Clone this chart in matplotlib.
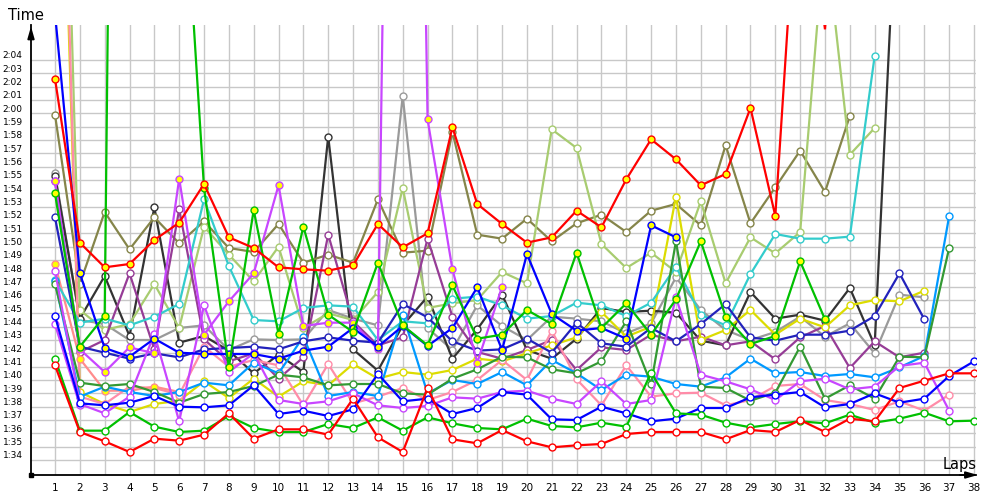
import matplotlib
matplotlib.use('Agg')
import matplotlib.pyplot as plt
from matplotlib.transforms import ScaledTranslation

# lap times, seconds past 1:00 (so 45.2 means 1:45.2); one value per lap starting at lap 1
laps = list(range(1, 39))
red_top = [62.6, 50.3, 48.45, 48.7, 50.5, 51.8, 54.7, 50.7, 49.9, 48.45, 48.3, 48.2, 48.6, 51.7, 49.95, 51.0,
           58.95, 53.2, 51.7, 50.3, 50.7, 52.7, 51.45, 55.05, 58.05, 56.55, 54.6, 55.45, 60.4, 52.3, 81.0, 66.3, 90.0]
red_low = [41.1, 36.1, 35.4, 34.6, 35.6, 35.45, 35.9, 37.5, 35.6, 36.3, 36.3, 35.9, 38.6, 35.7, 34.6, 39.4, 35.55,
           35.25, 36.25, 35.4, 34.95, 35.1, 35.2, 35.95, 36.1, 36.1, 36.1, 35.55, 36.25, 36.1, 37.0, 36.1, 37.1,
           36.9, 39.4, 39.95, 40.5, 40.5]
green_low = [41.6, 36.2, 36.2, 37.6, 36.5, 36.1, 36.2, 37.3, 36.4, 36.1, 36.1, 36.7, 36.4, 37.2, 36.2, 37.2, 36.75,
             36.4, 36.3, 37.1, 36.55, 36.45, 36.8, 36.5, 40.55, 37.5, 37.4, 36.8, 36.45, 36.7, 36.9, 36.75, 37.4,
             36.8, 37.1, 37.55, 36.9, 36.95]
green_yel = [54.0, 42.5, 44.8, 220.0, 150.0, 84.0, 54.4, 40.95, 52.75, 43.45, 51.5, 44.9, 43.6, 48.8, 44.1, 42.6,
             47.1, 43.1, 43.4, 45.25, 44.2, 49.55, 43.9, 45.75, 43.4, 46.05, 50.4, 44.75, 42.7, 43.3, 48.9, 44.55]
dkgreen = [47.2, 39.8, 39.55, 39.7, 39.1, 38.3, 38.95, 39.1, 39.55, 40.4, 40.2, 39.6, 39.7, 39.7, 39.0, 38.9, 40.1,
           40.8, 41.75, 41.7, 40.8, 40.5, 41.4, 44.4, 39.7, 50.4, 39.5, 39.4, 38.45, 39.05, 42.5, 38.6, 39.6, 38.6,
           41.75, 41.7, 49.9]
ltgreen = [110.0, 45.25, 43.75, 44.2, 47.2, 43.9, 51.5, 49.4, 47.4, 50.0, 43.9, 45.0, 44.5, 46.6, 54.4, 45.4, 45.75,
           46.0, 48.1, 47.25, 58.8, 57.4, 50.2, 48.4, 49.55, 48.1, 53.4, 47.25, 50.7, 49.5, 51.1, 73.7, 56.9, 58.9]
olive = [59.9, 47.2, 52.6, 49.8, 52.2, 50.25, 51.9, 49.9, 49.6, 51.7, 48.8, 49.4, 48.8, 53.55, 49.55, 49.7, 58.6,
         50.9, 50.6, 52.1, 50.4, 51.75, 52.4, 51.1, 52.7, 53.2, 51.6, 57.6, 51.75, 54.45, 57.2, 54.1, 59.8]
blue_yel = [67.5, 48.0, 42.4, 41.75, 43.1, 42.05, 41.95, 41.95, 41.95, 41.6, 42.2, 42.5, 43.9, 42.5, 44.05, 42.55,
            43.9, 46.95, 42.25, 49.45, 44.95, 43.7, 43.9, 43.1, 51.6, 50.7]
blue_low = [44.8, 38.25, 38.1, 38.3, 38.8, 38.0, 37.95, 38.1, 39.6, 37.45, 37.7, 37.3, 37.8, 40.45, 38.4, 38.6, 37.45,
            37.9, 39.1, 38.9, 37.05, 37.0, 38.0, 37.5, 36.9, 37.1, 37.9, 37.9, 38.7, 38.9, 39.1, 37.95, 38.2, 39.0,
            38.3, 38.6, 40.3, 41.4]
navy = [52.2, 42.5, 42.05, 41.6, 42.0, 41.7, 42.3, 42.4, 42.5, 42.3, 42.9, 43.2, 42.95, 42.8, 45.7, 44.7, 42.9, 42.2,
        42.3, 43.1, 42.05, 44.3, 42.75, 42.5, 43.9, 42.9, 44.2, 45.7, 43.2, 42.95, 43.4, 43.4, 43.7, 44.8, 48.0, 44.55]
ltblue = [47.4, 38.75, 39.5, 39.1, 38.8, 39.1, 39.8, 39.6, 41.3, 40.5, 43.25, 38.8, 39.1, 38.8, 44.9, 39.0, 40.0,
          39.7, 40.6, 39.6, 41.5, 40.5, 39.25, 40.4, 40.25, 39.7, 39.5, 40.2, 41.6, 40.5, 40.6, 40.3, 40.45, 40.2,
          40.95, 41.8, 52.3]
cyan = [47.5, 44.3, 44.6, 44.1, 44.75, 45.7, 53.55, 48.55, 44.5, 44.4, 45.4, 45.6, 45.5, 43.0, 44.4, 44.25, 46.1,
        46.25, 45.6, 44.6, 44.8, 45.8, 45.6, 44.8, 45.8, 48.5, 44.9, 44.1, 47.95, 50.95, 50.6, 50.6, 50.75, 64.3]
pink = [105.0, 38.75, 38.2, 39.5, 39.4, 38.9, 42.5, 41.0, 41.5, 41.1, 38.1, 41.2, 38.25, 38.75, 39.4, 38.5, 39.1, 40.0,
        41.5, 40.0, 43.7, 40.05, 38.1, 41.1, 38.75, 39.0, 39.05, 38.1, 38.5, 39.55, 39.7, 38.5, 38.2, 37.75, 38.4,
        37.7, 38.9]
pink_yel = [48.7, 41.6, 39.2, 39.2, 39.5, 39.1]
violet = [48.2, 38.2, 37.5, 38.75, 43.45, 36.9, 45.6, 40.6, 42.0, 38.5, 38.2, 38.4, 39.0, 38.1, 37.9, 38.05, 38.7,
          38.6, 39.1, 39.2, 38.6, 38.2, 39.9, 38.2, 38.5, 46.2, 40.4, 39.9, 39.3, 38.5, 39.9, 40.1, 39.3, 39.5, 41.05,
          41.3, 37.7]
violet2 = [44.2, 38.1]
violet_yel = [54.9, 42.3, 40.6, 42.45, 42.0, 55.1, 43.4, 45.9, 48.0, 54.6, 44.05, 44.3, 44.3, 42.3, 175.0, 59.55,
              48.3, 41.3, 47.0]
purple = [54.9, 42.1, 43.0, 48.0, 42.3, 52.8, 43.05, 41.4, 42.0, 40.1, 41.7, 50.9, 44.4, 42.6, 43.2, 50.6, 44.75,
          42.1, 41.6, 42.25, 43.0, 40.75, 42.45, 42.25, 43.4, 42.9, 43.25, 42.6, 42.9, 41.55, 43.2, 44.05, 40.9, 42.9,
          41.7, 42.05]
dkgray = [55.3, 44.6, 47.8, 43.3, 52.95, 42.8, 43.3, 42.2, 40.5, 41.9, 40.6, 58.25, 42.3, 40.7, 44.1, 46.25, 41.6,
          43.8, 46.4, 42.25, 41.6, 43.1, 45.4, 45.1, 45.2, 45.05, 42.95, 42.6, 46.6, 44.6, 44.9, 44.45, 46.9, 42.6, 81.3]
gray = [55.5, 44.5, 44.2, 43.0, 43.0, 43.9, 44.1, 42.25, 43.05, 43.0, 43.05, 45.25, 44.6, 44.1, 61.3, 43.9, 42.25,
        45.6, 44.05, 43.0, 44.75, 44.6, 44.4, 43.5, 44.25, 47.7, 45.25, 43.75, 43.0, 43.6, 44.75, 43.25, 44.25, 42.0,
        46.4, 46.2]
yellow = [100.0, 39.1, 38.2, 37.6, 38.2, 38.45, 39.9, 38.65, 40.1, 38.75, 39.9, 39.6, 41.2, 40.1, 40.6, 40.4, 40.75,
          41.6, 41.4, 42.0, 42.6, 43.2, 45.1, 43.25, 44.0, 53.75, 43.0, 43.75, 45.25, 43.4, 44.6, 43.95, 45.6, 46.0,
          45.9, 46.7]

# (data, line colour, marker fill), drawn in this order
series = [
    (gray, '#9a9a9a', 'white'),
    (dkgray, '#333333', 'white'),
    (olive, '#85854a', 'white'),
    (ltgreen, '#a8cc70', 'white'),
    (purple, '#963c96', 'white'),
    (yellow, '#dcdc00', 'white'),
    (pink, '#ff8ca8', 'white'),
    (pink_yel, '#ff8c8c', '#ffff00'),
    (cyan, '#33cccc', 'white'),
    (ltblue, '#0099ff', 'white'),
    (dkgreen, '#339933', 'white'),
    (navy, '#2222bb', 'white'),
    (violet, '#c846ff', 'white'),
    (violet2, '#c846ff', 'white'),
    (violet_yel, '#c846ff', '#ffff00'),
    (blue_low, '#0000ff', 'white'),
    (blue_yel, '#0000ff', '#ffff00'),
    (green_yel, '#00c000', '#ffff00'),
    (green_low, '#00c000', 'white'),
    (red_low, '#ff0000', 'white'),
    (red_top, '#ff0000', '#ffff00'),
]

y_lo, y_hi = 32.875, 66.625

fig = plt.figure(figsize=(10, 5), dpi=100)
ax = fig.add_axes([0.031, 0.05, 0.945, 0.90])

for vals, col, face in series:
    xs = laps[:len(vals)]
    # markers only where the point lies well inside the plot
    shown = [i for i, v in enumerate(vals) if v < y_hi - 0.5]
    ax.plot(xs, vals, color=col, lw=1.6, marker='o', ms=5, mfc=face, mec=col, mew=1.0,
            markevery=shown, solid_joinstyle='miter', zorder=3)

ax.set_xlim(0.034, 38.08)
ax.set_ylim(y_lo, y_hi)

ax.set_xticks(laps)
ax.set_xticklabels([str(l) for l in laps], fontsize=7.5)
secs = list(range(34, 65))
ax.set_yticks(secs)
ax.set_yticklabels(['%d:%02d' % ((60 + s) // 60, (60 + s) % 60) for s in secs], fontsize=6.5)
ax.tick_params(axis='both', length=0)
ax.tick_params(axis='x', pad=6)
ax.tick_params(axis='y', pad=6)
for lab in ax.get_yticklabels():
    lab.set_transform(lab.get_transform() + ScaledTranslation(0, 0.05, fig.dpi_scale_trans))

ax.grid(True, color='#c8c8c8', lw=1.0, zorder=0)
ax.set_axisbelow(True)
for sp in ['top', 'right']:
    ax.spines[sp].set_visible(False)
for sp in ['left', 'bottom']:
    ax.spines[sp].set_color('black')
    ax.spines[sp].set_linewidth(1.3)

# axis arrows
ax.annotate('', xy=(0, 1.003), xytext=(0, 0.97), xycoords='axes fraction',
            arrowprops=dict(arrowstyle='-|>,head_length=0.7,head_width=0.2', color='black', lw=1.3))
ax.annotate('', xy=(1.005, 0), xytext=(0.98, 0), xycoords='axes fraction',
            arrowprops=dict(arrowstyle='-|>,head_length=0.7,head_width=0.2', color='black', lw=1.3))
ax.plot([0], [0], marker='s', ms=3, color='black', transform=ax.transAxes, clip_on=False)

fig.text(0.008, 0.97, 'Time', fontsize=10.5, ha='left', va='center')
fig.text(0.977, 0.07, 'Laps', fontsize=10.5, ha='right', va='center')

fig.savefig('out.png', dpi=100)
